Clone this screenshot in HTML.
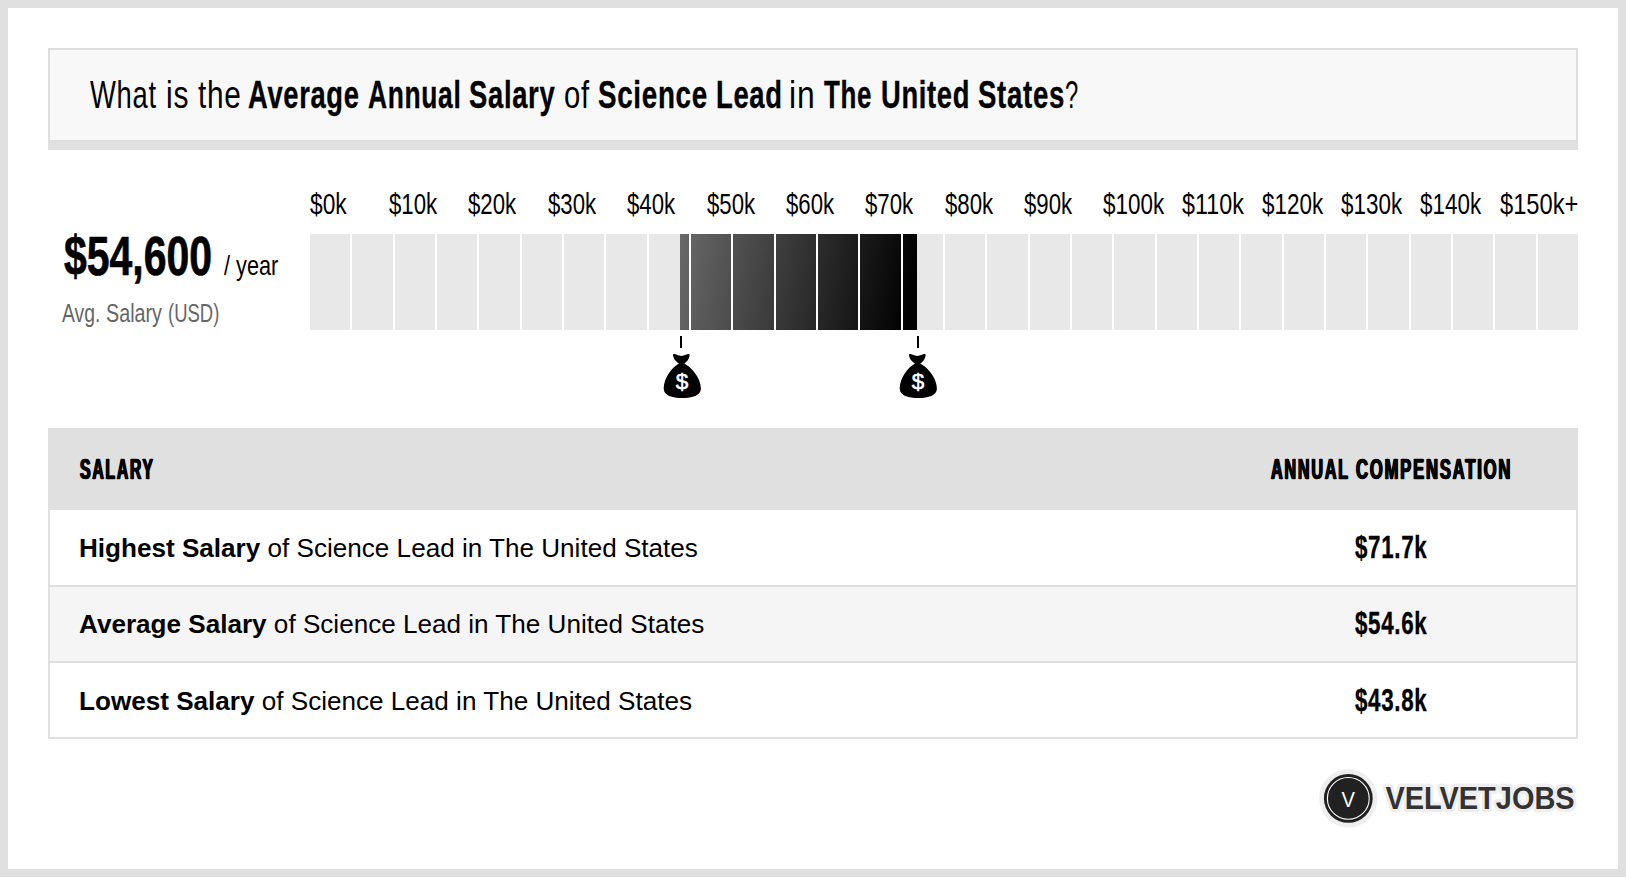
<!DOCTYPE html>
<html lang="en">
<head>
<meta charset="utf-8">
<title>Average Annual Salary of Science Lead in The United States</title>
<style>
html,body{margin:0;padding:0;background:#fff;}
body{width:1626px;height:878px;position:relative;overflow:hidden;font-family:'Liberation Sans',Arial,Helvetica,sans-serif;color:#000;}
.frame{position:absolute;left:0;top:0;width:1610px;height:861px;border:8px solid #e0e0e0;background:#fff;}
.titlebox{position:absolute;left:48px;top:48px;width:1526px;height:90px;border:2px solid #dedede;background:#f8f8f8;box-shadow:0 8px 0 #e0e0e0;}
.c{position:absolute;white-space:nowrap;line-height:1;transform-origin:0 0;}
.b{font-weight:700;}
.bar{position:absolute;left:310px;top:234px;width:1270px;height:96px;background:#e8e8e8;}
.fill{position:absolute;left:370px;top:0;width:237px;height:96px;background:linear-gradient(100deg,#696969 0%,#000 96%);}
.sep{position:absolute;top:0;width:2px;height:96px;background:#fff;}
.tick{position:absolute;top:336px;width:2px;height:12px;background:#000;}
.bag{position:absolute;top:353px;width:40px;height:46px;}
.thead{position:absolute;left:48px;top:428px;width:1530px;height:82px;background:#e0e0e0;}
.tbody{position:absolute;left:48px;top:510px;width:1526px;height:227px;border:2px solid #e0e0e0;border-top:0;background:#fff;}
.row{position:absolute;left:0;width:1526px;}
.rowtxt{position:absolute;left:79px;white-space:nowrap;font-size:26.1px;line-height:1;}
</style>
</head>
<body>
<div class="frame"></div>
<div class="titlebox"></div>

<h1 style="margin:0;font-size:inherit;font-weight:inherit">
<span class="c" style="left:90.20px;top:74.75px;font-size:39px;transform:scaleX(0.7027);letter-spacing:0.025em;">What</span>
<span class="c" style="left:165.94px;top:74.75px;font-size:39px;transform:scaleX(0.7700);letter-spacing:0.025em;">is</span>
<span class="c" style="left:197.99px;top:74.75px;font-size:39px;transform:scaleX(0.7642);letter-spacing:0.025em;">the</span>
<b class="c b" style="left:248.05px;top:74.75px;font-size:39px;transform:scaleX(0.7003);-webkit-text-stroke:0.35px #000;letter-spacing:0.025em;">Average</b>
<b class="c b" style="left:367.57px;top:74.75px;font-size:39px;transform:scaleX(0.6772);-webkit-text-stroke:0.35px #000;letter-spacing:0.025em;">Annual</b>
<b class="c b" style="left:469.30px;top:74.75px;font-size:39px;transform:scaleX(0.7025);-webkit-text-stroke:0.35px #000;letter-spacing:0.025em;">Salary</b>
<span class="c" style="left:563.50px;top:74.75px;font-size:39px;transform:scaleX(0.7500);letter-spacing:0.025em;">of</span>
<b class="c b" style="left:598.04px;top:74.75px;font-size:39px;transform:scaleX(0.7119);-webkit-text-stroke:0.35px #000;letter-spacing:0.025em;">Science</b>
<b class="c b" style="left:716.09px;top:74.75px;font-size:39px;transform:scaleX(0.7028);-webkit-text-stroke:0.35px #000;letter-spacing:0.025em;">Lead</b>
<span class="c" style="left:789.30px;top:74.75px;font-size:39px;transform:scaleX(0.8173);letter-spacing:0.025em;">in</span>
<b class="c b" style="left:824.25px;top:74.75px;font-size:39px;transform:scaleX(0.6643);-webkit-text-stroke:0.35px #000;letter-spacing:0.025em;">The</b>
<b class="c b" style="left:880.60px;top:74.75px;font-size:39px;transform:scaleX(0.7008);-webkit-text-stroke:0.35px #000;letter-spacing:0.025em;">United</b>
<b class="c b" style="left:978.04px;top:74.75px;font-size:39px;transform:scaleX(0.7083);-webkit-text-stroke:0.35px #000;letter-spacing:0.025em;">States</b><span class="c" style="left:1064.53px;top:74.75px;font-size:39px;transform:scaleX(0.6111);letter-spacing:0.025em;">?</span>
</h1>
<div class="c" style="left:309.72px;top:189.75px;font-size:29px;transform:scaleX(0.7833);">$0k</div>
<div class="c" style="left:389.11px;top:189.75px;font-size:29px;transform:scaleX(0.7661);">$10k</div>
<div class="c" style="left:468.48px;top:189.75px;font-size:29px;transform:scaleX(0.7661);">$20k</div>
<div class="c" style="left:547.86px;top:189.75px;font-size:29px;transform:scaleX(0.7661);">$30k</div>
<div class="c" style="left:627.23px;top:189.75px;font-size:29px;transform:scaleX(0.7661);">$40k</div>
<div class="c" style="left:706.61px;top:189.75px;font-size:29px;transform:scaleX(0.7661);">$50k</div>
<div class="c" style="left:785.98px;top:189.75px;font-size:29px;transform:scaleX(0.7661);">$60k</div>
<div class="c" style="left:865.36px;top:189.75px;font-size:29px;transform:scaleX(0.7661);">$70k</div>
<div class="c" style="left:944.73px;top:189.75px;font-size:29px;transform:scaleX(0.7661);">$80k</div>
<div class="c" style="left:1024.11px;top:189.75px;font-size:29px;transform:scaleX(0.7661);">$90k</div>
<div class="c" style="left:1102.88px;top:189.75px;font-size:29px;transform:scaleX(0.7731);">$100k</div>
<div class="c" style="left:1182.22px;top:189.75px;font-size:29px;transform:scaleX(0.8040);">$110k</div>
<div class="c" style="left:1261.63px;top:189.75px;font-size:29px;transform:scaleX(0.7731);">$120k</div>
<div class="c" style="left:1341.00px;top:189.75px;font-size:29px;transform:scaleX(0.7731);">$130k</div>
<div class="c" style="left:1420.38px;top:189.75px;font-size:29px;transform:scaleX(0.7731);">$140k</div>
<div class="c" style="left:1499.71px;top:189.75px;font-size:29px;transform:scaleX(0.8172);">$150k+</div>
<div class="c b" style="left:63.50px;top:229.00px;font-size:55.2px;transform:scaleX(0.7419);-webkit-text-stroke:0.7px #000;">$54,600</div>
<div class="c" style="left:223.70px;top:252.00px;font-size:28px;transform:scaleX(0.7757);">/ year</div>
<div class="c" style="left:62.30px;top:300.50px;font-size:25.7px;transform:scaleX(0.7531);color:#666;">Avg.</div>
<div class="c" style="left:105.66px;top:300.50px;font-size:25.7px;transform:scaleX(0.7690);color:#666;">Salary</div>
<div class="c" style="left:168.46px;top:300.50px;font-size:25.7px;transform:scaleX(0.7191);color:#666;">(USD)</div>
<div class="bar"><div class="fill"></div>
<div class="sep" style="left:40px"></div>
<div class="sep" style="left:83px"></div>
<div class="sep" style="left:125px"></div>
<div class="sep" style="left:167px"></div>
<div class="sep" style="left:210px"></div>
<div class="sep" style="left:252px"></div>
<div class="sep" style="left:294px"></div>
<div class="sep" style="left:337px"></div>
<div class="sep" style="left:379px"></div>
<div class="sep" style="left:421px"></div>
<div class="sep" style="left:464px"></div>
<div class="sep" style="left:506px"></div>
<div class="sep" style="left:548px"></div>
<div class="sep" style="left:591px"></div>
<div class="sep" style="left:633px"></div>
<div class="sep" style="left:675px"></div>
<div class="sep" style="left:718px"></div>
<div class="sep" style="left:760px"></div>
<div class="sep" style="left:802px"></div>
<div class="sep" style="left:845px"></div>
<div class="sep" style="left:887px"></div>
<div class="sep" style="left:929px"></div>
<div class="sep" style="left:972px"></div>
<div class="sep" style="left:1014px"></div>
<div class="sep" style="left:1056px"></div>
<div class="sep" style="left:1099px"></div>
<div class="sep" style="left:1141px"></div>
<div class="sep" style="left:1183px"></div>
<div class="sep" style="left:1226px"></div>
<div class="sep" style="left:1268px"></div>
</div>
<div class="tick" style="left:680px"></div>
<svg class="bag" style="left:662px" viewBox="0 0 40 46"><path d="M11.3 1.2 C13.5 0.6 16 2.9 19.3 2.9 C22.6 2.9 25.2 0.6 27.3 1.2 C28.2 1.6 27 5.5 25.8 7.3 C24.6 9 23.2 9.8 22.3 10.5 C29 14 38.9 24.5 38.9 35.5 C38.9 42.5 30.5 45 20.3 45 C10 45 1.7 42.5 1.7 35.5 C1.7 24.5 10.5 14 17 10.5 C16 9.8 14.4 9 13.1 7.3 C11.8 5.5 10.5 1.6 11.3 1.2 Z" fill="#000"/><text x="20.1" y="35.9" text-anchor="middle" font-family="Liberation Sans, Arial, sans-serif" font-size="22.5" fill="#fff" stroke="#fff" stroke-width="0.55">$</text></svg>
<div class="tick" style="left:917px"></div>
<svg class="bag" style="left:898.4px" viewBox="0 0 40 46"><path d="M11.3 1.2 C13.5 0.6 16 2.9 19.3 2.9 C22.6 2.9 25.2 0.6 27.3 1.2 C28.2 1.6 27 5.5 25.8 7.3 C24.6 9 23.2 9.8 22.3 10.5 C29 14 38.9 24.5 38.9 35.5 C38.9 42.5 30.5 45 20.3 45 C10 45 1.7 42.5 1.7 35.5 C1.7 24.5 10.5 14 17 10.5 C16 9.8 14.4 9 13.1 7.3 C11.8 5.5 10.5 1.6 11.3 1.2 Z" fill="#000"/><text x="20.1" y="35.9" text-anchor="middle" font-family="Liberation Sans, Arial, sans-serif" font-size="22.5" fill="#fff" stroke="#fff" stroke-width="0.55">$</text></svg>
<div class="thead"></div>
<div class="tbody">
<div class="row" style="top:0;height:75px;border-bottom:2px solid #e0e0e0;background:#fff"></div>
<div class="row" style="top:77px;height:74px;border-bottom:2px solid #e0e0e0;background:#f5f5f5"></div>
<div class="row" style="top:153px;height:74px;background:#fff"></div>
</div>
<div class="c b" style="left:80.40px;top:454.00px;font-size:30px;transform:scaleX(0.5259);-webkit-text-stroke:0.35px #000;letter-spacing:0.11em;text-shadow:1.2px 0 0 #000,-1.2px 0 0 #000;">SALARY</div>
<div class="c b" style="left:1271.00px;top:454.00px;font-size:30px;transform:scaleX(0.5385);-webkit-text-stroke:0.35px #000;letter-spacing:0.11em;text-shadow:1.2px 0 0 #000,-1.2px 0 0 #000;">ANNUAL</div>
<div class="c b" style="left:1356.00px;top:454.00px;font-size:30px;transform:scaleX(0.5532);-webkit-text-stroke:0.35px #000;letter-spacing:0.11em;text-shadow:1.2px 0 0 #000,-1.2px 0 0 #000;">COMPENSATION</div>
<div class="rowtxt" style="top:534.50px"><b>Highest Salary</b> of Science Lead in The United States</div>
<div class="rowtxt" style="top:610.70px"><b>Average Salary</b> of Science Lead in The United States</div>
<div class="rowtxt" style="top:688.20px"><b>Lowest Salary</b> of Science Lead in The United States</div>
<div class="c b" style="left:1354.80px;top:531.80px;font-size:31.4px;transform:scaleX(0.7119);-webkit-text-stroke:0.35px #000;letter-spacing:0.03em;">$71.7k</div>
<div class="c b" style="left:1354.80px;top:608.20px;font-size:31.4px;transform:scaleX(0.7119);-webkit-text-stroke:0.35px #000;letter-spacing:0.03em;">$54.6k</div>
<div class="c b" style="left:1354.80px;top:685.00px;font-size:31.4px;transform:scaleX(0.7119);-webkit-text-stroke:0.35px #000;letter-spacing:0.03em;">$43.8k</div>
<svg style="position:absolute;left:1310px;top:762px;width:290px;height:74px" viewBox="0 0 290 74">
<circle cx="38.3" cy="36.4" r="29.1" fill="#eeeeee"/>
<circle cx="38.3" cy="36.4" r="24.4" fill="#212121"/>
<circle cx="38.3" cy="36.4" r="20.9" fill="none" stroke="#fff" stroke-width="1.1"/>
<text transform="translate(38.3 45.1) scale(0.9 1)" x="0" y="0" text-anchor="middle" font-family="Liberation Sans, Arial, sans-serif" font-size="22.4" fill="#fff">V</text>
<text x="75.4" y="46.8" font-family="Liberation Sans, Arial, sans-serif" font-weight="700" font-size="31.4" fill="#333" stroke="#eeeeee" stroke-width="6.6" stroke-linejoin="round" paint-order="stroke" textLength="189.2" lengthAdjust="spacingAndGlyphs">VELVETJOBS</text>
</svg>
</body></html>
